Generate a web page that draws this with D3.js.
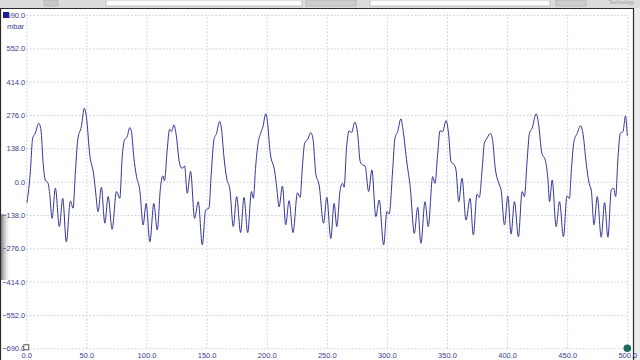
<!DOCTYPE html>
<html>
<head>
<meta charset="utf-8">
<script src="https://cdn.jsdelivr.net/npm/d3@7"></script>
<style>
  body { margin: 0; background: #fff; }
  svg { display: block; font-family: "Liberation Sans", Arial, sans-serif; }
  .grid line { stroke: #c4ced8; stroke-dasharray: 1.5 2; }
  .grid .domain { display: none; }
  .axis text { fill: #3d3d8f; font-size: 7.5px; }
  .axis line, .axis .domain { display: none; }
</style>
</head>
<body>
<div id="scope"></div>
<script>
// time (ms) and pressure (mbar)
const times = [
  0.6, 3.3, 5.3, 7.5, 10.3, 12.2, 13.9, 15.8, 18.1, 19.4, 21.4, 24.2, 27.5, 30.3, 33.3, 36.7, 38.9,
  40.8, 42.8, 45.8, 48.3, 50, 52.8, 56.1, 57.5, 59.7, 62.5, 65.3, 68.1, 71.4, 75, 77.8,
  79.7, 81.7, 83.9, 86.1, 87.5, 89.4, 91.7, 94.4, 97.2, 99.7, 102.8, 106.1, 108.9, 111.7, 113.6, 115,
  117.2, 119.2, 120.8, 122.8, 124.7, 127.5, 129.7, 131.7, 133.9, 136.7, 140, 143.1, 146.4, 149.2, 151.9,
  153.9, 156.1, 158.3, 160.8, 162.5, 164.4, 166.7, 169.4, 172.2, 175, 178.3, 181.1, 184.2, 187.3, 188.9,
  190.8, 192.8, 195, 196.9, 199.2, 200.6, 202.8, 206.7, 208.3, 210.3, 213.1, 215.8, 218.6, 221.9, 225.6, 227.8,
  229.8, 231.7, 233.9, 236.7, 238.6, 240.8, 243.6, 247.3, 250, 253.3, 256.1, 258.3, 261.1, 263.1, 264.4,
  266.4, 268.6, 270.6, 273.3, 275.6, 277.8, 279.8, 281.9, 284.8, 287.5, 290.8, 293.6, 297.3, 300, 301.9,
  304.8, 306.7, 308.9, 311.7, 313.6, 316.7, 319.4, 322.8, 325.6, 328.3, 331.7, 334.4, 338.1, 340,
  342.3, 344.2, 346.4, 349.2, 351.4, 353.3, 356.1, 357.5, 359.8, 362.5, 365.8, 369.2, 371.9, 375, 376.9,
  379.2, 381.1, 383.3, 386.1, 388.1, 390, 393.6, 395, 397.8, 400.6, 403.3, 406.1, 409.4, 412.5, 414.4,
  416.7, 418.6, 420.8, 424.2, 426.1, 428.9, 431.7, 433.9, 435.3, 437.5, 440.8, 443.6, 446.9, 449.8, 451.9,
  453.3, 455.6, 458.3, 461.1, 463.1, 465.8, 468.6, 470, 472.3, 475, 478.3, 481.1, 483.9, 486.7, 488.6, 490.3,
  492.3, 494.2, 496.4, 498.5, 499.3, 500
];
const pressure = [
  -87, 36, 180, 200, 242, 214, 83, 7, -7, -48, -152, -27, -186, -69, -249, -80, -110,
  35, 173, 228, 304, 269, 111, 28, -34, -124, -23, -172, -62, -197, -41, -69,
  97, 173, 186, 224, 207, 104, 21, -34, -179, -90, -249, -90, -200, -21, 24, 4,
  131, 217, 207, 235, 194, 76, 55, 65, -48, 42, -152, -83, -262, -117, -110,
  35, 173, 200, 249, 214, 104, 14, -34, -186, -62, -211, -65, -211, -41, -69,
  62, 159, 200, 228, 281, 249, 124, 41, -21, -104, -18, -179, -79, -211, -46, -65,
  69, 162, 173, 203, 173, 35, -14, -172, -65, -235, -90, -186, -34, -7, -23,
  138, 211, 203, 246, 200, 83, 69, 65, -41, 48, -145, -76, -262, -124, -134,
  48, 180, 207, 260, 207, 76, -21, -214, -106, -255, -83, -186, 21, -7,
  118, 211, 207, 253, 194, 83, 69, 48, -83, 14, -159, -69, -221, -51, -65,
  48, 159, 180, 200, 166, 62, -14, -34, -179, -59, -217, -83, -228, -41, -62,
  90, 200, 221, 281, 242, 118, 90, 14, -83, 7, -186, -83, -228, -59, -69,
  35, 166, 200, 231, 200, 76, -14, -34, -179, -62, -230, -87, -230, -34, -27, -62,
  104, 200, 207, 272, 242, 190
];

const xTicks = [0, 50, 100, 150, 200, 250, 300, 350, 400, 450, 500];
const yTicks = [-690, -552, -414, -276, -138, 0, 138, 276, 414, 552, 690];
const unit = "mbar";

(function() {
  const W = 640, H = 360;
  const plot = { left: 26.3, right: 627.3, top: 15, bottom: 348.3 };

  const x = d3.scaleLinear().domain([0, 500]).range([plot.left, plot.right]);
  const y = d3.scaleLinear().domain([-690, 690]).range([plot.bottom, plot.top]);
  const fmt = d3.format(".1f");

  const svg = d3.select('#scope')
    .append('svg')
      .attr('width', W)
      .attr('height', H);

  // window chrome around the scope view
  svg.append('rect').attr('x', 0).attr('y', 0).attr('width', W).attr('height', 8).attr('fill', '#dcdcdc');
  [[44, 14, '#c8c8c8'], [106, 196, '#fbfbfb'], [306, 50, '#cfcfcf'], [370, 180, '#fbfbfb'], [556, 30, '#cfcfcf']]
    .forEach(([bx, bw, c]) => {
      svg.append('rect').attr('x', bx).attr('y', 0).attr('width', bw).attr('height', 6)
        .attr('fill', c).attr('stroke', '#a8a8a8').attr('stroke-width', 0.6);
    });
  svg.append('text')
    .attr('x', 634).attr('y', 4)
    .attr('text-anchor', 'end')
    .style('font-size', '5px')
    .style('fill', '#9a9a9a')
    .text('Technology');
  svg.append('rect').attr('x', 633).attr('y', 8).attr('width', 7).attr('height', H - 8).attr('fill', '#ececec');
  svg.append('path')
    .attr('d', `M0.5,${H} V8.5 H633.5 V${H}`)
    .attr('fill', 'none').attr('stroke', '#2a2a2a').attr('stroke-width', 1.2);

  const shade = svg.append('defs').append('linearGradient').attr('id', 'shade');
  shade.append('stop').attr('offset', '0%').attr('stop-color', '#7a7a7a');
  shade.append('stop').attr('offset', '100%').attr('stop-color', '#ffffff').attr('stop-opacity', 0);
  svg.append('rect').attr('x', 1).attr('y', 214).attr('width', 10).attr('height', 66).attr('fill', 'url(#shade)');

  // grid
  svg.append('g')
    .attr('class', 'grid')
    .attr('transform', `translate(0, ${plot.bottom})`)
    .call(d3.axisBottom(x).tickValues(xTicks).tickSize(-(plot.bottom - plot.top)).tickFormat(''));

  svg.append('g')
    .attr('class', 'grid')
    .attr('transform', `translate(${plot.left}, 0)`)
    .call(d3.axisLeft(y).tickValues(yTicks).tickSize(-(plot.right - plot.left)).tickFormat(''));

  // axes labels
  svg.append('g')
    .attr('class', 'axis')
    .attr('transform', `translate(${plot.left - 1}, 0)`)
    .call(d3.axisLeft(y).tickValues(yTicks).tickSize(0).tickPadding(0).tickFormat(fmt))
    .selectAll('text').attr('dy', '0.35em');

  svg.append('g')
    .attr('class', 'axis')
    .attr('transform', `translate(0, 353)`)
    .call(d3.axisBottom(x).tickValues(xTicks).tickSize(0).tickPadding(0).tickFormat(fmt))
    .selectAll('text').attr('dy', '0.71em');

  svg.append('text')
    .attr('x', 7).attr('y', 29)
    .style('font-size', '7.5px')
    .style('fill', '#3d3d8f')
    .text(unit);

  // trace
  const series = times.map((t, i) => ({ t, p: pressure[i] }));
  const line = d3.line()
    .curve(d3.curveMonotoneX)
    .x(d => x(d.t))
    .y(d => y(d.p));

  svg.append('path')
    .datum(series)
    .attr('fill', 'none')
    .attr('stroke', '#34349a')
    .attr('stroke-width', 1)
    .attr('stroke-linejoin', 'round')
    .attr('d', line);

  // channel / trigger markers
  svg.append('rect').attr('x', 3).attr('y', y(690) - 3).attr('width', 6).attr('height', 6).attr('fill', '#1c1c9c');
  svg.append('rect').attr('x', x(0) - 2.5).attr('y', y(-690) - 3.5).attr('width', 5).attr('height', 5)
    .attr('fill', '#fff').attr('stroke', '#333').attr('stroke-width', 0.8);
  svg.append('circle').attr('cx', x(500)).attr('cy', y(-690)).attr('r', 3.8).attr('fill', '#1d6b5c');
})();
</script>
</body>
</html>
